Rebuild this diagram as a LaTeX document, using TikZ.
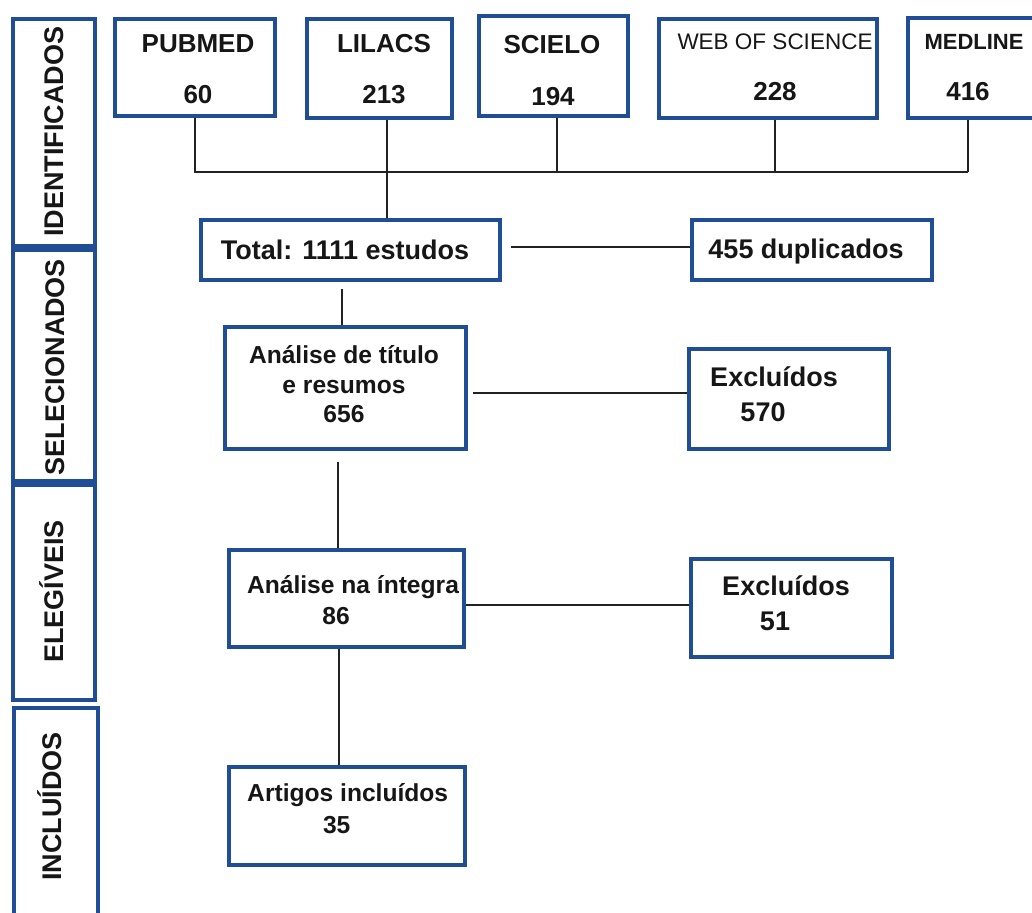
\documentclass[tikz,border=0pt]{standalone}
\usepackage{fontspec}
\setmainfont{Liberation Sans}
\definecolor{bblue}{RGB}{32,78,150}
\definecolor{lineblack}{RGB}{34,34,34}
\definecolor{txt}{RGB}{22,22,22}
\tikzset{
  box/.style={draw=bblue, line width=4pt, fill=white, inner sep=0pt, outer sep=2pt},
  conn/.style={draw=lineblack, line width=2pt},
  lblA/.style={font=\bfseries\fontsize{26}{28}\selectfont, text=txt, anchor=base, inner sep=0pt},
  lblB/.style={font=\bfseries\fontsize{27}{29}\selectfont, text=txt, anchor=base, inner sep=0pt},
  lblC/.style={font=\bfseries\fontsize{24.6}{27}\selectfont, text=txt, anchor=base, inner sep=0pt},
  lblW/.style={font=\fontsize{22.5}{25}\selectfont, text=txt, anchor=base, inner sep=0pt},
  lblM/.style={font=\bfseries\fontsize{22}{25}\selectfont, text=txt, anchor=base, inner sep=0pt},
  stage/.style={font=\bfseries\fontsize{27}{29}\selectfont, text=txt, anchor=base, inner sep=0pt, rotate=90},
}
\begin{document}
\begin{tikzpicture}[x=1pt,y=-1pt]
\useasboundingbox[fill=white] (0,0) rectangle (1032,912);

% stage boxes
\node[box, minimum width=82pt, minimum height=227pt] (ident) at (54,132.5) {};
\node[box, minimum width=82pt, minimum height=231pt] (selec) at (54,365.5) {};
\node[box, minimum width=82pt, minimum height=215pt] (eleg) at (54,592.5) {};
\node[box, minimum width=84pt, minimum height=220pt] (incl) at (56,818) {};
\node[stage] (tident) at (63.3,131.7) {IDENTIFICADOS};
\node[stage] (tselec) at (64.5,367) {SELECIONADOS};
\node[stage] (televa) at (63.3,591.7) {ELEGÍVEIS};
\node[stage] (tincl) at (61.7,806.7) {INCLUÍDOS};

% connector junctions
\coordinate (bL) at (195,172);
\coordinate (bR) at (968,172);
\coordinate (jL) at (387,172);
\coordinate (jS) at (557,172);
\coordinate (jW) at (775,172);
\coordinate (tdA) at (511,247);
\coordinate (ttA) at (342,289);
\coordinate (te) at (473,393);
\coordinate (ti) at (338,462);
\coordinate (ie) at (466,605);
\coordinate (ia) at (339,700);

% source boxes
\node[box, minimum width=160pt, minimum height=97pt] (pubmed) at (195,67.5) {};
\node[box, minimum width=145pt, minimum height=99pt] (lilacs) at (379.5,68.5) {};
\node[box, minimum width=149pt, minimum height=100pt] (scielo) at (553.5,66) {};
\node[box, minimum width=218pt, minimum height=99pt] (wos) at (768,68.5) {};
\node[box, minimum width=135pt, minimum height=100pt] (medline) at (975.5,68) {};

\node[box, minimum width=299pt, minimum height=60pt] (total) at (350.5,250) {};
\node[box, minimum width=240pt, minimum height=60pt] (dup) at (812,250) {};
\node[box, minimum width=241pt, minimum height=122pt] (titulo) at (345.5,388) {};
\node[box, minimum width=200pt, minimum height=100pt] (exc1) at (789,399) {};
\node[box, minimum width=235pt, minimum height=97pt] (integra) at (346.5,598.5) {};
\node[box, minimum width=201pt, minimum height=98pt] (exc2) at (791.5,608) {};
\node[box, minimum width=236pt, minimum height=98pt] (artigos) at (347,816) {};

% connectors
\draw[conn] (pubmed.south) |- (bR);
\draw[conn] (lilacs.south -| jL) -- (total.north -| jL);
\draw[conn] (scielo.south -| jS) -- (jS);
\draw[conn] (wos.south -| jW) -- (jW);
\draw[conn] (medline.south -| bR) -- (bR);
\draw[conn] (tdA) -- (dup.west |- tdA);
\draw[conn] (ttA) -- (titulo.north -| ttA);
\draw[conn] (te) -- (exc1.west |- te);
\draw[conn] (ti) -- (integra.north -| ti);
\draw[conn] (integra.east |- ie) -- (exc2.west |- ie);
\draw[conn] (integra.south -| ia) -- (artigos.north -| ia);

% texts
\node[lblA] (t1a) at (198,52.7) {PUBMED};
\node[lblA] (t1b) at (198,104) {60};
\node[lblA] (t2a) at (384,52.7) {LILACS};
\node[lblA] (t2b) at (384,104) {213};
\node[lblA] (t3a) at (552,53.3) {SCIELO};
\node[lblA] (t3b) at (553,106) {194};
\node[lblW] (t4a) at (775,49.3) {WEB OF SCIENCE};
\node[lblA] (t4b) at (775,100.7) {228};
\node[lblM] (t5a) at (974,49.3) {MEDLINE};
\node[lblA] (t5b) at (968,100.7) {416};

\node[lblB] (ttot) at (345,259.3) {Total: 1111 estudos};
\node[lblB] (tdup) at (806,258.5) {455 duplicados};

\node[lblC] (tti1) at (344,363.3) {Análise de título};
\node[lblC] (tti2) at (344,393.3) {e resumos};
\node[lblC] (tti3) at (344,422.7) {656};

\node[lblB] (te1a) at (774,386.7) {Excluídos};
\node[lblB] (te1b) at (763,421.7) {570};

\node[lblC] (tin1) at (353,593.3) {Análise na íntegra};
\node[lblC] (tin2) at (336,624) {86};

\node[lblB] (te2a) at (786,595) {Excluídos};
\node[lblB] (te2b) at (775,630) {51};

\node[lblC] (tar1) at (347.7,801.7) {Artigos incluídos};
\node[lblC] (tar2) at (336.7,833.3) {35};
\end{tikzpicture}
\end{document}
